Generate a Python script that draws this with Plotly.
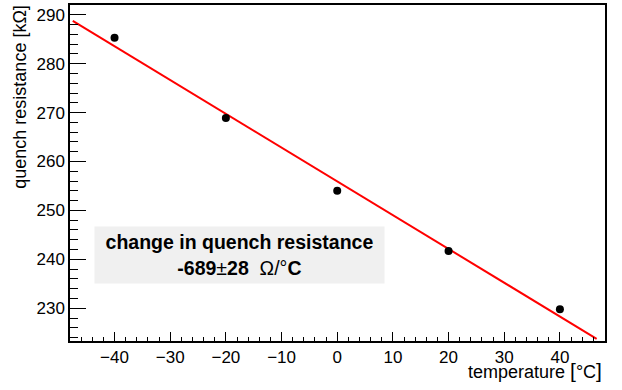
import numpy as np
import plotly.graph_objects as go

temperature = [-40, -20, 0, 20, 40]
resistance = [285.3, 268.9, 254.0, 241.7, 229.8]
res_err = [0.6, 0.6, 0.6, 0.6, 0.6]
fit_range = [-47.5, 46.6]
x_ticks = [-40, -30, -20, -10, 0, 10, 20, 30, 40]
y_ticks = [230, 240, 250, 260, 270, 280, 290]

slope, intercept = np.polyfit(temperature, resistance, 1)
fx = np.array(fit_range)
fy = slope * fx + intercept

FONT = "Liberation Sans, Arial, Helvetica, sans-serif"

fig = go.Figure()
fig.add_trace(go.Scatter(x=fx, y=fy, mode="lines",
                         line=dict(color="#ff0000", width=2), showlegend=False))
fig.add_trace(go.Scatter(x=temperature, y=resistance, mode="markers",
                         marker=dict(color="black", size=8),
                         error_y=dict(type="data", array=res_err, color="black",
                                      thickness=2, width=0),
                         showlegend=False))

axis_common = dict(showline=True, linecolor="black", linewidth=1.5, mirror=True,
                   ticks="inside", tickcolor="black", tickwidth=1,
                   showgrid=False, zeroline=False,
                   tickfont=dict(family=FONT, size=17, color="black"))

fig.update_xaxes(range=[-48, 48.1], tickvals=x_ticks, ticklen=9,
                 minor=dict(ticks="inside", dtick=2, ticklen=4, tickcolor="black"),
                 **axis_common)
fig.update_yaxes(range=[223.3, 292.0], tickvals=y_ticks, ticklen=16,
                 minor=dict(ticks="inside", dtick=2, ticklen=8, tickcolor="black"),
                 **axis_common)

fig.update_layout(
    width=622, height=390,
    margin=dict(l=70, r=17, t=3, b=49),
    plot_bgcolor="white", paper_bgcolor="white",
    font=dict(family=FONT, color="black"),
    annotations=[
        dict(text="quench resistance [kΩ]", xref="paper", yref="paper",
             x=-0.0935, y=0.727, xanchor="center", yanchor="middle",
             textangle=-90, showarrow=False, font=dict(size=18)),
        dict(text="temperature <span style='font-size:21px'>[</span>°C<span style='font-size:21px'>]</span>",
             xref="paper", yref="paper",
             x=0.998, y=-0.087, xanchor="right", yanchor="middle",
             showarrow=False, font=dict(size=18)),
        dict(text="<b>change in quench resistance</b><br><b>-689</b>±<b>28</b>  Ω/°<b>C</b>",
             xref="paper", yref="paper", x=0.3168, y=0.2574,
             xanchor="center", yanchor="middle", showarrow=False,
             bgcolor="#f0f0f0", width=289, height=56, borderpad=0,
             font=dict(size=19.5)),
    ],
)

fig.write_html("out.html")
